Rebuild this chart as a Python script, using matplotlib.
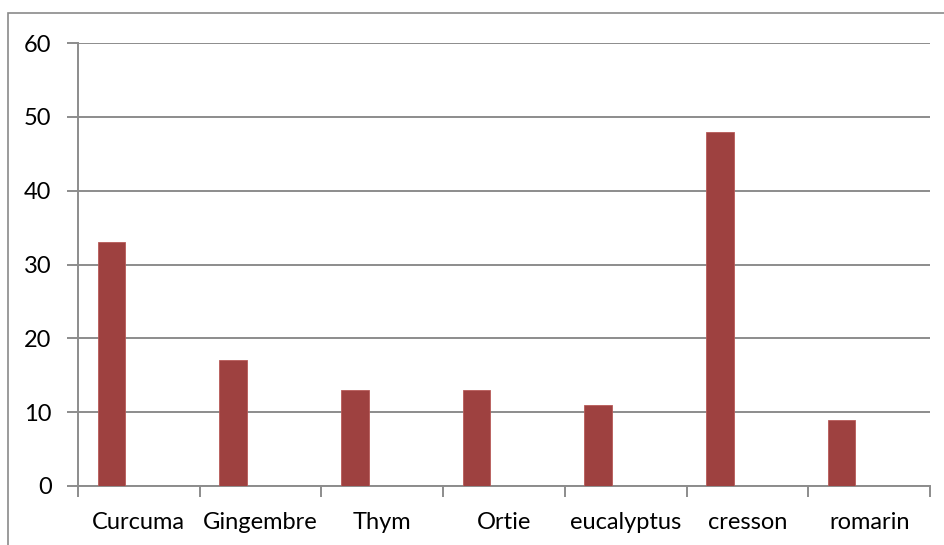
import numpy as np
import matplotlib.pyplot as plt
from matplotlib.patches import Rectangle

# Data
categories = ['Curcuma', 'Gingembre', 'Thym', 'Ortie', 'eucalyptus', 'cresson', 'romarin']
values = [33, 17, 13, 13, 11, 48, 9]

plt.rcParams['font.family'] = ['Lato', 'DejaVu Sans']

fig = plt.figure(figsize=(9.44, 5.45), dpi=100)
ax = fig.add_axes([78 / 944, 1 - 486 / 545, (930 - 78) / 944, (486 - 43) / 545])

# outer chart frame
fig.patches.append(Rectangle((8 / 944, -0.1), 1.0, 1 - 13 / 545 + 0.1, transform=fig.transFigure,
                             fill=False, edgecolor='#8a8a8a', linewidth=1.2))

grid_col = '#8c8c8c'
x = np.arange(len(categories))
ax.bar(x + 0.274, values, width=0.226, color='#9e4140', edgecolor='#b85a58', linewidth=0.6, zorder=3)

ax.set_xlim(0, len(categories))
ax.set_ylim(0, 60)
ax.set_yticks(np.arange(0, 61, 10))
ax.yaxis.grid(True, color=grid_col, linewidth=1.4, zorder=0)
ax.set_xticks(np.arange(len(categories) + 1))
ax.set_xticklabels([])
ax.set_xticks(x + 0.5, minor=True)
ax.set_xticklabels(categories, minor=True)
ax.tick_params(axis='x', which='minor', length=0, pad=19, labelsize=17)
ax.tick_params(axis='x', which='major', length=8, width=1.4, color=grid_col)
ax.tick_params(axis='y', length=8, width=1.4, color=grid_col, labelsize=17, pad=11)

for s in ['top', 'right']:
    ax.spines[s].set_visible(False)
for s in ['left', 'bottom']:
    ax.spines[s].set_color(grid_col)
    ax.spines[s].set_linewidth(1.4)

fig.savefig('out.png', dpi=100)
